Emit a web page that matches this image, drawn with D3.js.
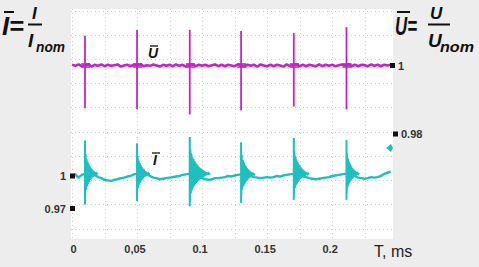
<!DOCTYPE html>
<html>
<head>
<meta charset="utf-8">
<script src="https://cdn.jsdelivr.net/npm/d3@7"></script>
<style>
  html, body { margin: 0; padding: 0; background: #ededed; }
  svg { display: block; }
  .tick-lbl { font-family: "Liberation Sans", Arial, sans-serif; font-size: 11px; font-weight: bold; fill: #333; }
  .formula { font-family: "Liberation Sans", Arial, sans-serif; font-weight: bold; font-style: italic; fill: #111; }
</style>
</head>
<body>
<svg id="chart" width="479" height="267"></svg>
<script>
// --- data ---
const dt = 0.0025; // ms between samples
const xTicks = [0, 0.05, 0.1, 0.15, 0.2];
const xTickLabels = ["0", "0,05", "0.1", "0.15", "0.2"];
const uMarks = [1, 0.98];
const iMarks = [1, 0.97];

// voltage (relative) baseline samples
const uValues = [
  1.0002, 0.9999, 1.0003, 0.9998, 1.0001, 1.0004, 0.9997, 1.0002, 0.9999, 1.0003,
  0.9998, 1.0002, 0.9999, 1.0001, 1.0003, 0.9997, 1.0000, 1.0002, 0.9998, 1.0002,
  1.0001, 1.0004, 0.9998, 1.0001, 0.9999, 1.0003, 1.0000, 0.9997, 1.0002, 0.9999,
  1.0002, 0.9998, 1.0003, 0.9999, 1.0002, 0.9997, 1.0001, 1.0004, 0.9998, 1.0002,
  0.9999, 1.0002, 0.9998, 1.0001, 1.0003, 0.9998, 1.0002, 0.9998, 1.0002, 1.0000,
  0.9998, 1.0003, 1.0001, 0.9998, 1.0002, 0.9999, 1.0002, 0.9997, 1.0003, 1.0000,
  0.9998, 1.0002, 0.9998, 1.0002, 1.0000, 0.9997, 1.0003, 0.9999, 1.0001, 1.0004,
  0.9998, 1.0002, 0.9998, 1.0002, 1.0000, 0.9998, 1.0003, 0.9998, 1.0002, 0.9999,
  1.0002, 0.9998, 1.0001, 1.0003, 1.0000, 1.0004, 0.9998, 1.0002, 0.9998, 1.0002,
  1.0001, 0.9998, 1.0003, 0.9999, 1.0002, 0.9998, 1.0002, 1.0000, 1.0002
];
// voltage spikes: time (ms), top, bottom
const uSpikeT  = [0.010, 0.050, 0.0905, 0.130, 0.1705, 0.211];
const uSpikeHi = [1.0087, 1.0104, 1.0104, 1.0101, 1.0095, 1.0112];
const uSpikeLo = [0.9875, 0.9872, 0.9857, 0.9869, 0.9880, 0.9872];

// current (relative) baseline samples
const iValues = [
  1.0000, 1.0015, 0.9985, 1.0010, 1.0020, 1.0040, 1.0030, 1.0010, 0.9990, 0.9980,
  0.9965, 0.9960, 0.9955, 0.9965, 0.9970, 0.9980, 0.9985, 0.9995, 1.0000, 1.0015,
  1.0020, 1.0030, 1.0020, 1.0015, 1.0000, 0.9985, 0.9980, 0.9970, 0.9975, 0.9980,
  0.9985, 0.9990, 0.9995, 1.0000, 1.0010, 1.0015, 1.0020, 1.0010, 0.9995, 0.9990,
  0.9980, 0.9970, 0.9965, 0.9970, 0.9980, 0.9980, 0.9985, 0.9990, 1.0000, 0.9995,
  1.0005, 1.0010, 1.0015, 1.0020, 1.0005, 1.0000, 0.9990, 0.9985, 0.9980, 0.9985,
  0.9990, 0.9985, 0.9990, 1.0000, 0.9995, 1.0005, 1.0010, 1.0015, 1.0020, 1.0030,
  1.0015, 1.0000, 0.9990, 0.9980, 0.9975, 0.9970, 0.9975, 0.9980, 0.9985, 0.9990,
  1.0000, 1.0005, 1.0010, 1.0015, 1.0020, 1.0025, 1.0010, 1.0000, 0.9985, 0.9980,
  0.9975, 0.9980, 0.9990, 0.9985, 0.9990, 1.0000, 1.0020, 1.0030, 1.0040
];
// current spikes with ringing: time, top, bottom, ring length (ms)
const iSpikeT   = [0.010, 0.050, 0.0905, 0.130, 0.1705, 0.211];
const iSpikeHi  = [1.0327, 1.0300, 1.0360, 1.0310, 1.0350, 1.0330];
const iSpikeLo  = [0.9736, 0.9770, 0.9720, 0.9750, 0.9780, 0.9780];
const iRingLen  = [0.010, 0.010, 0.016, 0.011, 0.012, 0.010];
// ringing envelope (share of spike amplitude over ring length)
const ringPos  = [0, 0.05, 0.15, 0.3, 0.45, 0.62, 0.8, 1];
const ringFrac = [1, 0.66, 0.45, 0.3, 0.19, 0.11, 0.05, 0];

const W = 479, H = 267;
const plot = { left: 71, right: 393, top: 9, bottom: 239 };
const magenta = "#c424c4", cyan = "#1fbfc0";

const svg = d3.select("#chart");
svg.append("rect").attr("width", W).attr("height", H).attr("fill", "#ededed");
svg.append("rect")
  .attr("x", plot.left).attr("y", plot.top)
  .attr("width", plot.right - plot.left).attr("height", plot.bottom - plot.top)
  .attr("fill", "#fff");

const x = d3.scaleLinear().domain([0, 0.246]).range([72, 392]);
const yU = d3.scaleLinear().domain([0.98, 1]).range([134, 65.5]);
const yI = d3.scaleLinear().domain([0.97, 1]).range([208.5, 176]);
const yDiv = d3.scaleLinear().domain([0, 9]).range([10.5, 228.5]);

// dotted grid
const grid = svg.append("g").attr("stroke", "#cfcfcf").attr("stroke-width", 1).attr("stroke-dasharray", "1,3");
grid.selectAll("line.v").data(d3.range(0, 0.246, 0.025)).join("line")
  .attr("class", "v")
  .attr("x1", d => Math.round(x(d)) + 0.5).attr("x2", d => Math.round(x(d)) + 0.5)
  .attr("y1", plot.top).attr("y2", plot.bottom);
grid.selectAll("line.h").data(d3.range(0, 10)).join("line")
  .attr("class", "h")
  .attr("x1", plot.left).attr("x2", plot.right)
  .attr("y1", d => Math.round(yDiv(d)) + 0.5).attr("y2", d => Math.round(yDiv(d)) + 0.5);

const tAt = i => i * dt;
const envFrac = d3.scaleLinear().domain(ringPos).range(ringFrac).clamp(true);

// --- current trace ---
const gI = svg.append("g");
iSpikeT.forEach((t, k) => {
  const base = iValues[Math.round(t / dt)];
  const env = ringPos.map((p, j) => ({
    t: t + p * iRingLen[k],
    hi: base + ringFrac[j] * (iSpikeHi[k] - base),
    lo: base - ringFrac[j] * (base - iSpikeLo[k])
  }));
  gI.append("path").datum(env)
    .attr("fill", cyan).attr("fill-opacity", 0.45)
    .attr("d", d3.area().x(d => x(d.t)).y0(d => yI(d.lo)).y1(d => yI(d.hi)).curve(d3.curveMonotoneX));
  // ringing drawn as alternating swings inside the envelope
  const n = Math.round(iRingLen[k] / 0.0004);
  const swings = d3.range(n + 1).map(j => {
    const p = j / n, f = envFrac(p);
    return { t: t + p * iRingLen[k], v: j % 2 ? base - f * (base - iSpikeLo[k]) : base + f * (iSpikeHi[k] - base) };
  });
  gI.append("path").datum(swings)
    .attr("fill", "none").attr("stroke", cyan).attr("stroke-width", 1.1)
    .attr("d", d3.line().x(d => x(d.t)).y(d => yI(d.v)));
  gI.append("line")
    .attr("x1", x(t)).attr("x2", x(t))
    .attr("y1", yI(iSpikeHi[k])).attr("y2", yI(iSpikeLo[k]))
    .attr("stroke", cyan).attr("stroke-width", 2);
});
gI.append("path").datum(iValues)
  .attr("fill", "none").attr("stroke", cyan).attr("stroke-width", 2.4)
  .attr("stroke-linejoin", "round")
  .attr("d", d3.line().x((d, i) => x(tAt(i))).y(d => yI(d)));

// --- voltage trace ---
const gU = svg.append("g");
gU.append("path").datum(uValues)
  .attr("fill", "none").attr("stroke", magenta).attr("stroke-width", 2.6)
  .attr("stroke-linejoin", "round")
  .attr("d", d3.line().x((d, i) => x(tAt(i))).y(d => yU(d)));
uSpikeT.forEach((t, k) => {
  gU.append("line")
    .attr("x1", x(t - 0.003)).attr("x2", x(t + 0.004))
    .attr("y1", yU(1)).attr("y2", yU(1))
    .attr("stroke", magenta).attr("stroke-width", 5).attr("stroke-opacity", 0.8);
  gU.append("line")
    .attr("x1", x(t)).attr("x2", x(t))
    .attr("y1", yU(uSpikeHi[k])).attr("y2", yU(uSpikeLo[k]))
    .attr("stroke", magenta).attr("stroke-width", 1.8);
});

// curve labels
const curveLbl = (cx, cy, letter) => {
  const g = svg.append("g").attr("class", "formula");
  g.append("text").attr("x", cx).attr("y", cy).attr("font-size", 14).attr("text-anchor", "middle").text(letter);
  g.append("line").attr("x1", cx - 3).attr("x2", cx + 5).attr("y1", cy - 12).attr("y2", cy - 12)
    .attr("stroke", "#111").attr("stroke-width", 1.3);
};
curveLbl(153, 58, "U");
curveLbl(155, 165, "I");

// x tick labels
svg.selectAll("text.xt").data(xTicks).join("text")
  .attr("class", "tick-lbl")
  .attr("x", d => x(d) + (d === 0 ? 1.5 : -2)).attr("y", 253)
  .attr("text-anchor", "middle")
  .text((d, i) => xTickLabels[i]);
svg.append("text").attr("x", 374).attr("y", 257)
  .attr("font-family", "'Liberation Sans', Arial, sans-serif").attr("font-size", 16).attr("fill", "#222")
  .text("T, ms");

// level markers
iMarks.forEach(v => {
  svg.append("rect").attr("x", 70).attr("y", yI(v) - 2.5).attr("width", 5).attr("height", 5).attr("fill", "#111");
  svg.append("text").attr("class", "tick-lbl").attr("x", 66).attr("y", yI(v) + 4)
    .attr("text-anchor", "end").text(v === 1 ? "1" : "0.97");
});
uMarks.forEach(v => {
  const mx = v === 1 ? 390 : 393;
  svg.append("rect").attr("x", mx).attr("y", yU(v) - 2.5).attr("width", 5).attr("height", 5).attr("fill", "#111");
  svg.append("text").attr("class", "tick-lbl").attr("x", mx + 8).attr("y", yU(v) + 4)
    .text(v === 1 ? "1" : "0.98");
});
// trigger mark
svg.append("path").attr("d", "M386,148 L391,144 L393,148 L391,152 Z").attr("fill", cyan);

// formulas: x0 = start of the big letter, fx = start of the fraction
const formula = (x0, fx, letter, lhsW, numDx, nomW) => {
  const g = svg.append("g").attr("class", "formula");
  g.append("text").attr("x", x0).attr("y", 35).attr("font-size", 26)
    .attr("textLength", lhsW).attr("lengthAdjust", "spacingAndGlyphs").text(letter + "=");
  g.append("line").attr("x1", x0 + 2).attr("x2", x0 + (letter === "I" ? 12 : 15)).attr("y1", 12).attr("y2", 12)
    .attr("stroke", "#111").attr("stroke-width", 2);
  g.append("text").attr("x", fx + numDx).attr("y", 19).attr("font-size", 17).text(letter);
  g.append("line").attr("x1", fx).attr("x2", fx + (letter === "I" ? 14 : 22)).attr("y1", 24.5).attr("y2", 24.5)
    .attr("stroke", "#111").attr("stroke-width", 2);
  g.append("text").attr("x", fx).attr("y", 47).attr("font-size", 19).text(letter);
  g.append("text").attr("x", fx + (letter === "I" ? 8 : 12)).attr("y", 52).attr("font-size", 14)
    .attr("textLength", nomW).attr("lengthAdjust", "spacingAndGlyphs").text("nom");
};
formula(2, 28, "I", 22, 4, 29);
formula(395, 428, "U", 22, 2, 34);
</script>
</body>
</html>
